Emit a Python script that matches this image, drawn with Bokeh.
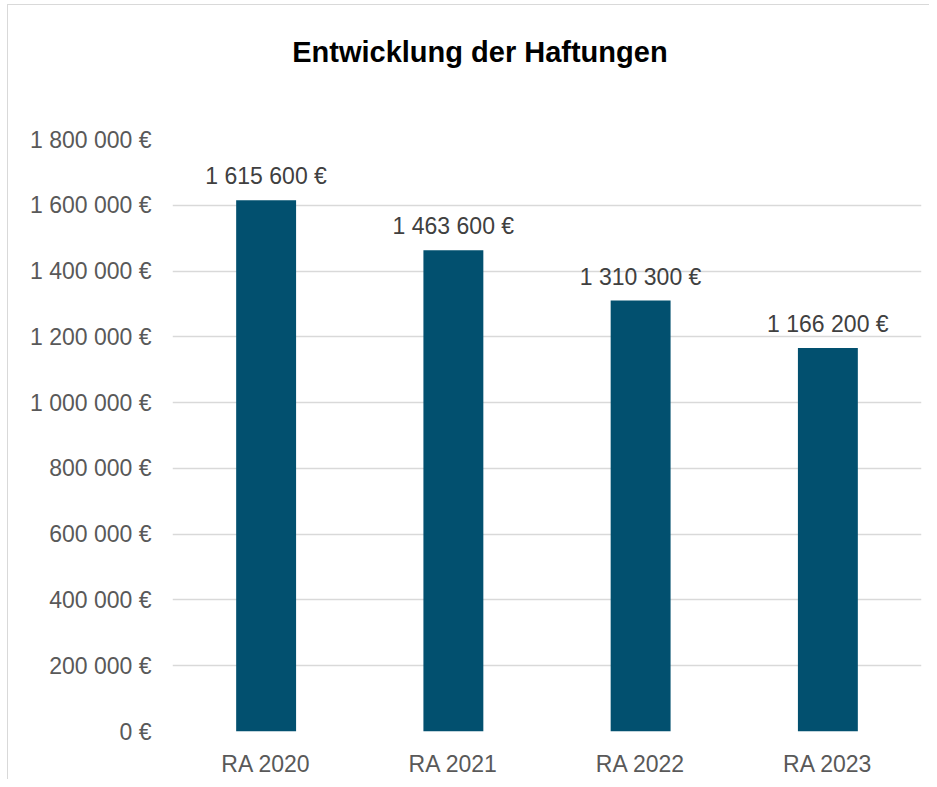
from bokeh.plotting import figure
from bokeh.layouts import column
from bokeh.models import ColumnDataSource, FactorRange, Range1d, FixedTicker, LabelSet
from bokeh.core.properties import value
from bokeh.embed import file_html
from bokeh.resources import INLINE

# Data
title_text = "Entwicklung der Haftungen"
categories = ["RA 2020", "RA 2021", "RA 2022", "RA 2023"]
values = [1615600, 1463600, 1310300, 1166200]
value_labels = ["1 615 600 €", "1 463 600 €", "1 310 300 €", "1 166 200 €"]
y_ticks = [0, 200000, 400000, 600000, 800000, 1000000, 1200000, 1400000, 1600000, 1800000]
y_tick_labels = ["0 €", "200 000 €", "400 000 €", "600 000 €", "800 000 €",
                 "1 000 000 €", "1 200 000 €", "1 400 000 €", "1 600 000 €", "1 800 000 €"]

FONT = "Liberation Sans"
W = 921
TITLE_H = 100

# ---- Title strip (a small figure in pixel coordinates) ----
tp = figure(width=W, height=TITLE_H, x_range=Range1d(0, W), y_range=Range1d(0, TITLE_H),
            output_backend="svg", toolbar_location=None,
            x_axis_location=None, y_axis_location=None,
            min_border_left=0, min_border_right=0, min_border_top=0, min_border_bottom=0)
tp.grid.visible = False
tp.outline_line_color = None
tp.text(x=[378], y=[54], text=[title_text], text_align="center", text_baseline="alphabetic",
        text_font=value(FONT), text_font_size="29px", text_font_style="bold",
        text_color="#000000")

# ---- Main bar chart ----
source = ColumnDataSource(dict(cat=categories, val=values, lab=value_labels))

p = figure(
    x_range=FactorRange(*categories, range_padding=0),
    y_range=Range1d(0, 1800000),
    width=W, height=674,
    output_backend="svg", toolbar_location=None,
    min_border_left=164, min_border_right=8, min_border_top=34, min_border_bottom=47,
)

p.vbar(x="cat", top="val", width=0.32, source=source, fill_color="#02506F", line_color=None)

labels = LabelSet(x="cat", y="val", text="lab", source=source, text_align="center",
                  text_baseline="alphabetic", y_offset=16, text_font=value(FONT),
                  text_font_size="23px", text_color="#404040")
p.add_layout(labels)

p.outline_line_color = None
p.background_fill_color = "white"
p.border_fill_color = "white"

p.xgrid.grid_line_color = None
p.ygrid.grid_line_color = "#d9d9d9"
p.ygrid.grid_line_width = 1.3
p.ygrid.ticker = FixedTicker(ticks=y_ticks)

p.yaxis.ticker = FixedTicker(ticks=y_ticks)
p.yaxis.major_label_overrides = {t: l for t, l in zip(y_ticks, y_tick_labels)}
p.yaxis.axis_line_color = None
p.yaxis.major_tick_line_color = None
p.yaxis.minor_tick_line_color = None
p.yaxis.major_tick_out = 0
p.yaxis.major_tick_in = 0
p.yaxis.minor_tick_out = 0
p.yaxis.major_label_standoff = 21
p.yaxis.major_label_text_font = FONT
p.yaxis.major_label_text_font_size = "23px"
p.yaxis.major_label_text_color = "#595959"

p.xaxis.axis_line_color = None
p.xaxis.major_tick_line_color = None
p.xaxis.minor_tick_line_color = None
p.xaxis.major_tick_out = 0
p.xaxis.major_tick_in = 0
p.xaxis.major_label_standoff = 19
p.xaxis.major_label_text_font = FONT
p.xaxis.major_label_text_font_size = "23px"
p.xaxis.major_label_text_color = "#595959"

layout = column(tp, p, spacing=0)
layout.styles = {"border-top": "1px solid #d9d9d9", "border-left": "1px solid #d9d9d9",
                 "margin-left": "7px", "margin-top": "4px"}

open("out.html", "w").write(file_html(layout, INLINE))
